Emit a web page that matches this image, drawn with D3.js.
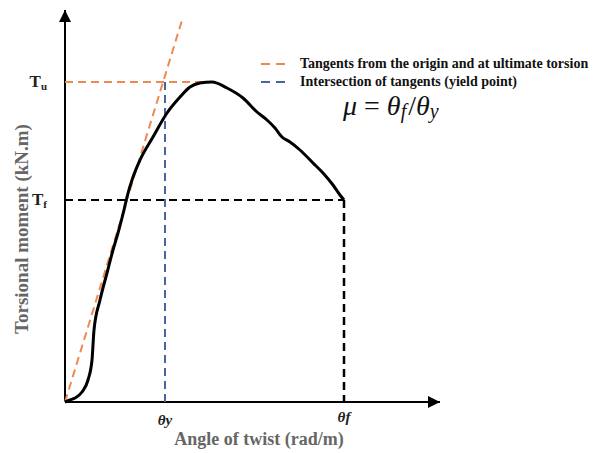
<!DOCTYPE html>
<html>
<head>
<meta charset="utf-8">
<script src="https://cdn.jsdelivr.net/npm/d3@7"></script>
<style>
  html, body { margin: 0; padding: 0; background: #fff; }
  svg { display: block; font-family: "Liberation Serif", "Times New Roman", serif; }
</style>
</head>
<body>
<svg id="chart" width="598" height="453"></svg>
<script>
// Torsional moment vs. angle of twist (arbitrary units)
const twistAngle = [0, 1, 2, 3.4, 4.6, 5.4, 5.8, 7, 8.4, 9.6, 10.6, 11.8, 12.4, 13.6, 15, 17.6, 20.4, 23, 25, 27, 29.4, 32.4, 35.6, 38.4, 40.4, 42, 43.4, 45, 47, 49.6, 51.6, 53.6, 55, 55.8];
const torsionalMoment = [0, 0.4, 0.8, 2, 4.4, 8.4, 14.4, 20.4, 25.8, 30.4, 33.8, 38.4, 41, 45, 48.4, 53, 57.8, 61, 63, 63.8, 64, 62.8, 60.8, 58, 56.4, 54.8, 53, 52, 50.4, 47.8, 45.8, 43.4, 41.4, 40.4];

const thetaY = 20;      // yield twist
const thetaF = 55.8;    // failure twist
const Tu = 64;          // ultimate torsion
const Tf = 40.4;        // failure torsion
const tangentEnd = [23.6, 77]; // end of tangent drawn from origin

const legendLabels = ["Tangents from the origin and at ultimate torsion", "Intersection of tangents (yield point)"];
const legendColors = ["#ee8a4f", "#4a64a0"];

const svg = d3.select("#chart");
const x = d3.scaleLinear().domain([0, 75]).range([65, 440]);
const y = d3.scaleLinear().domain([0, 78.4]).range([402, 10]);

// arrowheads
const defs = svg.append("defs");
defs.append("marker").attr("id", "arrow").attr("viewBox", "0 0 10 10")
  .attr("refX", 10).attr("refY", 5).attr("markerWidth", 6).attr("markerHeight", 6)
  .attr("markerUnits", "strokeWidth").attr("orient", "auto")
  .append("path").attr("d", "M0,0 L10,5 L0,10 Z").attr("fill", "#000");

// axes
svg.append("line").attr("x1", x(0)).attr("y1", y(0)).attr("x2", x(0)).attr("y2", y(78.4))
  .attr("stroke", "#000").attr("stroke-width", 2).attr("marker-end", "url(#arrow)");
svg.append("line").attr("x1", x(0)).attr("y1", y(0)).attr("x2", x(75)).attr("y2", y(0))
  .attr("stroke", "#000").attr("stroke-width", 2).attr("marker-end", "url(#arrow)");

const dash = "8,5";
// reference lines
svg.append("line").attr("x1", x(0)).attr("y1", y(Tu)).attr("x2", x(29.4)).attr("y2", y(Tu))
  .attr("stroke", legendColors[0]).attr("stroke-width", 2).attr("stroke-dasharray", dash);
svg.append("line").attr("x1", x(0)).attr("y1", y(0)).attr("x2", x(tangentEnd[0])).attr("y2", y(tangentEnd[1]))
  .attr("stroke", legendColors[0]).attr("stroke-width", 2).attr("stroke-dasharray", dash);
svg.append("line").attr("x1", x(thetaY)).attr("y1", y(Tu)).attr("x2", x(thetaY)).attr("y2", y(0))
  .attr("stroke", legendColors[1]).attr("stroke-width", 2).attr("stroke-dasharray", dash);
svg.append("line").attr("x1", x(0)).attr("y1", y(Tf)).attr("x2", x(thetaF)).attr("y2", y(Tf))
  .attr("stroke", "#000").attr("stroke-width", 2).attr("stroke-dasharray", dash);
svg.append("line").attr("x1", x(thetaF)).attr("y1", y(Tf)).attr("x2", x(thetaF)).attr("y2", y(0))
  .attr("stroke", "#000").attr("stroke-width", 2.5).attr("stroke-dasharray", dash);

// response curve
const pts = twistAngle.map((d, i) => [d, torsionalMoment[i]]);
svg.append("path").datum(pts)
  .attr("d", d3.line().x(d => x(d[0])).y(d => y(d[1])).curve(d3.curveMonotoneX))
  .attr("fill", "none").attr("stroke", "#000").attr("stroke-width", 3).attr("stroke-linejoin", "round");

// y tick labels
function subLabel(px, py, main, sub) {
  const t = svg.append("text").attr("x", px).attr("y", py).attr("text-anchor", "end")
    .attr("font-size", 17).attr("font-weight", "bold").attr("fill", "#222");
  t.append("tspan").text(main);
  t.append("tspan").attr("font-size", 11).attr("dy", 3).text(sub);
}
subLabel(47, y(Tu) + 5, "T", "u");
subLabel(47, y(Tf) + 5, "T", "f");

// x tick labels
svg.append("text").attr("x", x(thetaY)).attr("y", 425).attr("text-anchor", "middle")
  .attr("font-size", 15).attr("font-weight", "bold").attr("font-style", "italic").attr("fill", "#222")
  .text("θy");
svg.append("text").attr("x", x(thetaF)).attr("y", 422).attr("text-anchor", "middle")
  .attr("font-size", 15).attr("font-weight", "bold").attr("font-style", "italic").attr("fill", "#222")
  .text("θf");

// axis titles
svg.append("text").attr("x", 259).attr("y", 445).attr("text-anchor", "middle")
  .attr("font-size", 18).attr("font-weight", "bold").attr("fill", "#666")
  .text("Angle of twist (rad/m)");
svg.append("text").attr("transform", "translate(28,229) rotate(-90)").attr("text-anchor", "middle")
  .attr("font-size", 19).attr("font-weight", "bold").attr("fill", "#666")
  .text("Torsional moment (kN.m)");

// legend
legendLabels.forEach((lab, i) => {
  const ly = 64 + i * 18;
  svg.append("line").attr("x1", 261).attr("x2", 289).attr("y1", ly).attr("y2", ly)
    .attr("stroke", legendColors[i]).attr("stroke-width", 2).attr("stroke-dasharray", "9,6");
  svg.append("text").attr("x", 300).attr("y", ly + 4).attr("font-size", 14).attr("font-weight", "bold")
    .attr("fill", "#111").text(lab);
});

// ductility formula
const f = svg.append("text").attr("x", 343).attr("y", 115).attr("font-size", 28)
  .attr("font-style", "italic").attr("fill", "#111");
f.append("tspan").text("μ");
f.append("tspan").attr("font-style", "normal").text(" = ");
f.append("tspan").text("θ");
f.append("tspan").attr("font-size", 20).attr("dy", 3).text("f");
f.append("tspan").attr("dy", -3).attr("dx", 2).attr("font-style", "normal").text("/");
f.append("tspan").text("θ");
f.append("tspan").attr("font-size", 20).attr("dy", 3).text("y");
</script>
</body>
</html>
